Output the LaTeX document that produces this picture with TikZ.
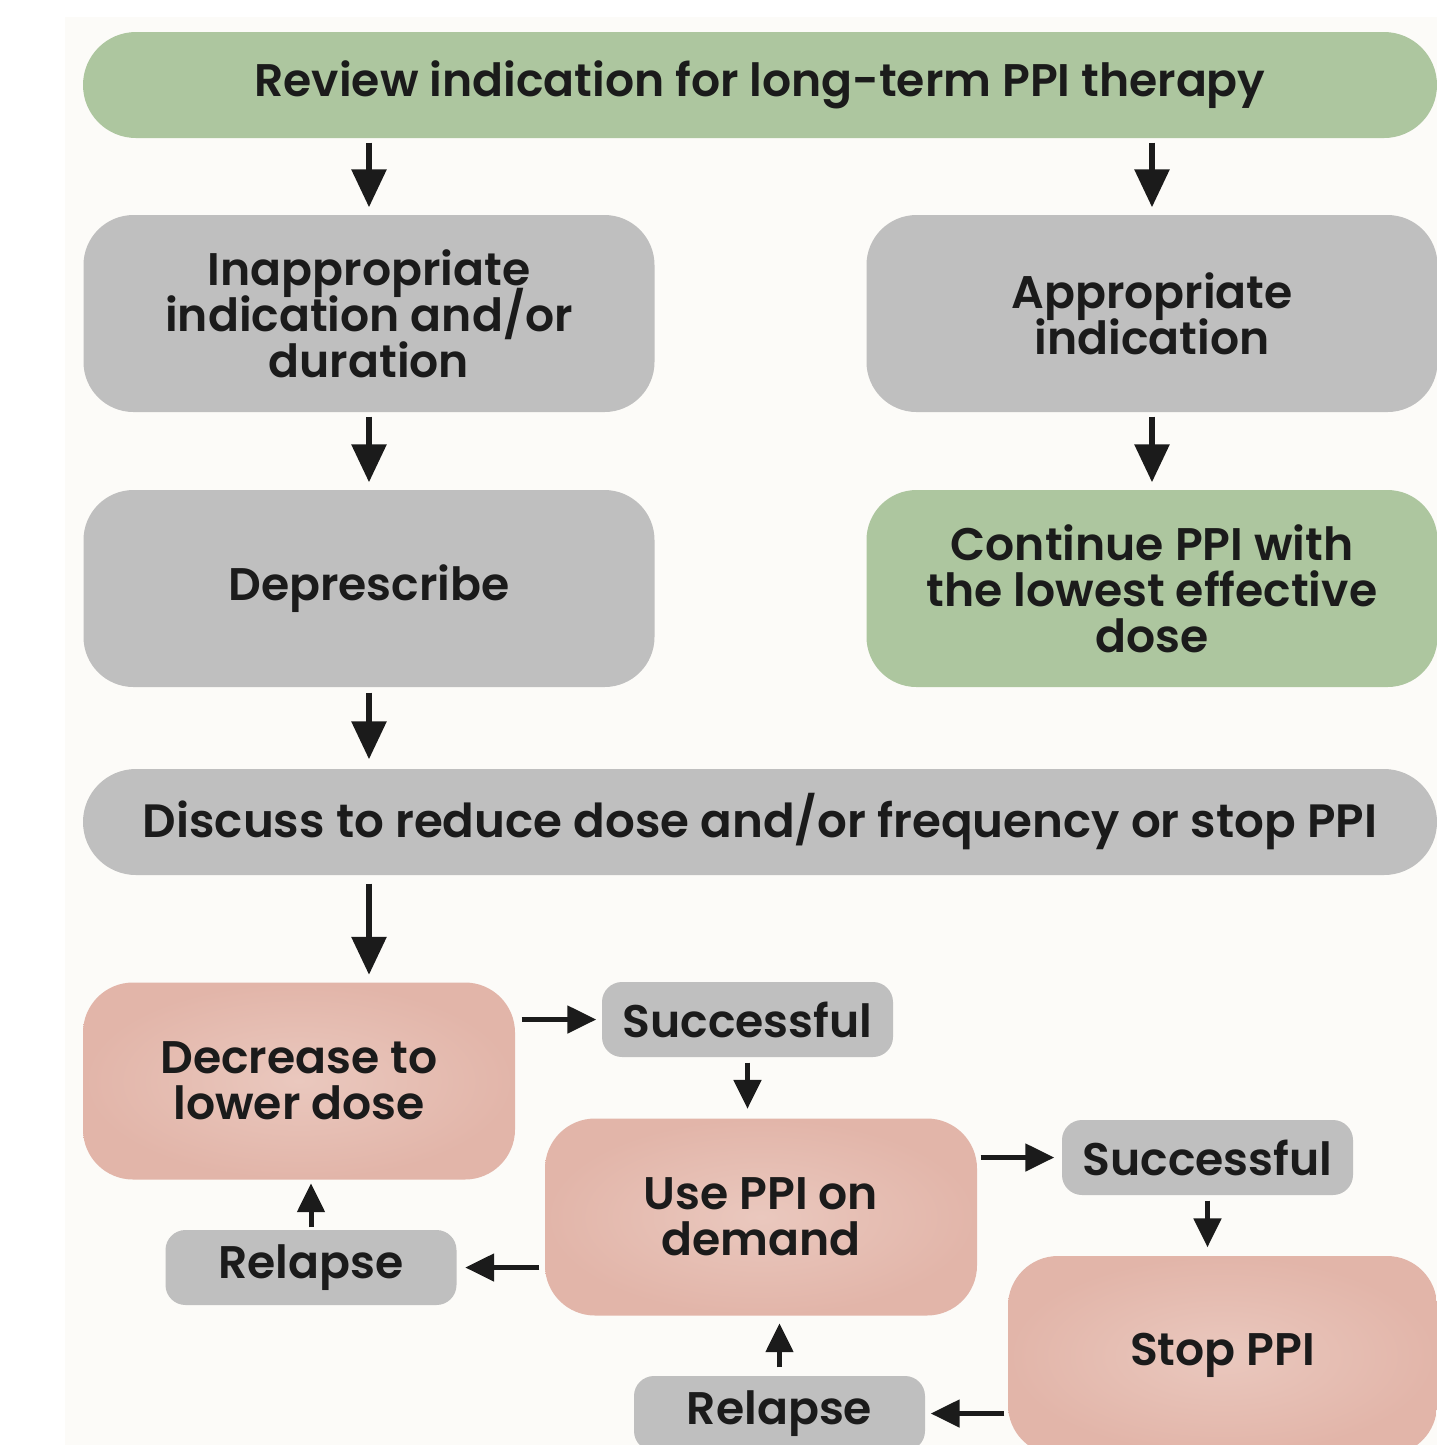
\documentclass[tikz,border=0pt]{standalone}
\usepackage{fontspec}
\setmainfont{Poppins}[BoldFont={Poppins SemiBold}]
\usepackage{xcolor}
\usetikzlibrary{arrows.meta,positioning,calc}
\definecolor{boxgreen}{HTML}{ADC69F}
\definecolor{boxgray}{HTML}{BFBFBF}
\definecolor{boxpink}{HTML}{E2B5A9}
\definecolor{boxpinklight}{HTML}{EAC8BE}
\definecolor{ink}{HTML}{1B1B1B}
\definecolor{paper}{HTML}{FCFBF8}

\begin{document}
\begin{tikzpicture}[>=Triangle,font=\bfseries\fontsize{13}{13.1}\selectfont,
   box/.style={rounded corners=0.5cm,align=center,inner sep=0pt,text=ink,
               minimum width=5.71cm,minimum height=1.97cm,
               execute at begin node={\lineskiplimit=-20pt}},
   graybox/.style={box,fill=boxgray},
   greenbox/.style={box,fill=boxgreen},
   pinkbox/.style={box,minimum width=4.32cm,inner color=boxpinklight,outer color=boxpink},
   pill/.style={box,rounded corners=0.53cm,minimum width=13.54cm,minimum height=1.06cm},
   small/.style={box,fill=boxgray,rounded corners=0.2cm,minimum width=2.91cm,minimum height=0.75cm},
   bigarr/.style={->,draw=ink,line width=0.06cm,>={Triangle[length=0.38cm,width=0.34cm]}},
   smallarr/.style={->,draw=ink,line width=0.05cm,>={Triangle[length=0.29cm,width=0.27cm]}}]
  \clip (0,0) rectangle (14.37,-14.45);
  \fill[white] (0,0) rectangle (14.37,-14.45);
  \fill[paper] (0.65,-0.17) rectangle (14.37,-14.45);

  \node[pill,fill=boxgreen] (review) at (7.60,-0.85) {Review indication for long-term PPI therapy};
  \node[graybox] (inapp) at (3.69,-3.135) {Inappropriate\\indication and/or\\duration};
  \node[graybox] (app) at (11.52,-3.135) {Appropriate\\indication};
  \node[graybox] (depr) at (3.69,-5.885) {Deprescribe};
  \node[greenbox] (cont) at (11.52,-5.885) {Continue PPI with\\the lowest effective\\dose};
  \node[pill,fill=boxgray] (discuss) at (7.60,-8.22)
        {\fontsize{13.3}{13.3}\selectfont Discuss to reduce dose and/or frequency or stop PPI};
  \node[pinkbox] (decr) at (2.99,-10.81) {Decrease to\\lower dose};
  \node[small] (succA) at (7.475,-10.195) {Successful};
  \node[pinkbox] (demand) at (7.61,-12.17) {Use PPI on\\demand};
  \node[small] (succB) at (12.075,-11.575) {Successful};
  \node[pinkbox,minimum width=4.29cm,minimum height=1.99cm] (stop) at (12.225,-13.555) {Stop PPI};
  \node[small] (relA) at (3.11,-12.675) {Relapse};
  \node[small] (relB) at (7.795,-14.135) {Relapse};

  \draw[bigarr,shorten <=0.04cm,shorten >=0.07cm] (inapp.north |- review.south) -- (inapp.north);
  \draw[bigarr,shorten <=0.04cm,shorten >=0.07cm] (app.north |- review.south) -- (app.north);
  \draw[bigarr,shorten <=0.04cm,shorten >=0.07cm] (inapp) -- (depr);
  \draw[bigarr,shorten <=0.04cm,shorten >=0.07cm] (app) -- (cont);
  \draw[bigarr,shorten <=0.05cm,shorten >=0.09cm] (depr) -- (depr.south |- discuss.north);
  \draw[bigarr,shorten <=0.08cm,shorten >=0.07cm] (depr.south |- discuss.south) -- (depr.south |- decr.north);

  \draw[smallarr,shorten <=0.06cm,shorten >=0.05cm] (decr.east |- succA) -- (succA.west);
  \draw[smallarr,shorten <=0.05cm,shorten >=0.09cm] (succA) -- (succA.south |- demand.north);
  \draw[smallarr,shorten <=0.03cm,shorten >=0.07cm] (demand.east |- succB) -- (succB.west);
  \draw[smallarr,shorten <=0.05cm,shorten >=0.08cm] (succB) -- (succB.south |- stop.north);
  \draw[smallarr,shorten <=0.03cm,shorten >=0.05cm] (stop.west |- relB) -- (relB.east);
  \draw[smallarr,shorten <=0.08cm,shorten >=0.07cm] (relB) -- (relB.north |- demand.south);
  \draw[smallarr,shorten <=0.05cm,shorten >=0.08cm] (demand.west |- relA) -- (relA.east);
  \draw[smallarr,shorten <=0.02cm,shorten >=0.03cm] (relA) -- (relA.north |- decr.south);
\end{tikzpicture}
\end{document}
